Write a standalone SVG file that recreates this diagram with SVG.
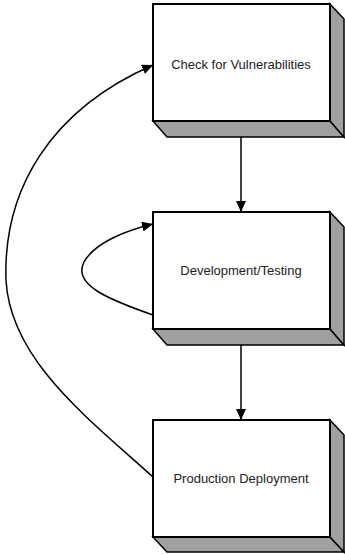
<svg xmlns="http://www.w3.org/2000/svg" width="345" height="554" viewBox="0 0 345 554">
<style>
.front{fill:#fff;stroke:#000;stroke-width:2}
.side{fill:#a0a0a0;stroke:#000;stroke-width:1.5;stroke-linejoin:miter}
.lbl{font-family:"Liberation Sans",Arial,sans-serif;font-size:13px;fill:#222;text-anchor:middle}
.edge{fill:none;stroke:#000;stroke-width:1.5}
</style>
<defs>
<marker id="ah" markerUnits="userSpaceOnUse" markerWidth="12" markerHeight="10" refX="11" refY="5" orient="auto">
<path d="M0,0 L11,5 L0,10 Z" fill="#000"/>
</marker>
</defs>
<rect width="345" height="554" fill="#fff"/>
<g id="connectors">
<line class="edge" x1="241" y1="121" x2="241" y2="212" marker-end="url(#ah)"/>
<line class="edge" x1="241" y1="329" x2="241" y2="420" marker-end="url(#ah)"/>
<path class="edge" d="M153,315 C 110,300 72,285 84,262 C 95,242 128,230 153,224" marker-end="url(#ah)"/>
<path class="edge" d="M153,477 C 90,420 10,360 6,280 C 3,190 50,110 153,65" marker-end="url(#ah)"/>
</g>
<g id="check">
<polygon class="side" points="153,121 330,121 344,137 167,137"/>
<polygon class="side" points="330,4 344,19 344,137 330,121"/>
<rect class="front" x="153" y="4" width="177" height="117"/>
<text class="lbl" x="241" y="68.5">Check for Vulnerabilities</text>
</g>
<g id="devtest">
<polygon class="side" points="153,329 330,329 344,345 167,345"/>
<polygon class="side" points="330,212 344,227 344,345 330,329"/>
<rect class="front" x="153" y="212" width="177" height="117"/>
<text class="lbl" x="241" y="275">Development/Testing</text>
</g>
<g id="prod">
<polygon class="side" points="153,537 330,537 344,552 167,552"/>
<polygon class="side" points="330,420 344,435 344,552 330,537"/>
<rect class="front" x="153" y="420" width="177" height="117"/>
<text class="lbl" x="241" y="483">Production Deployment</text>
</g>
</svg>
